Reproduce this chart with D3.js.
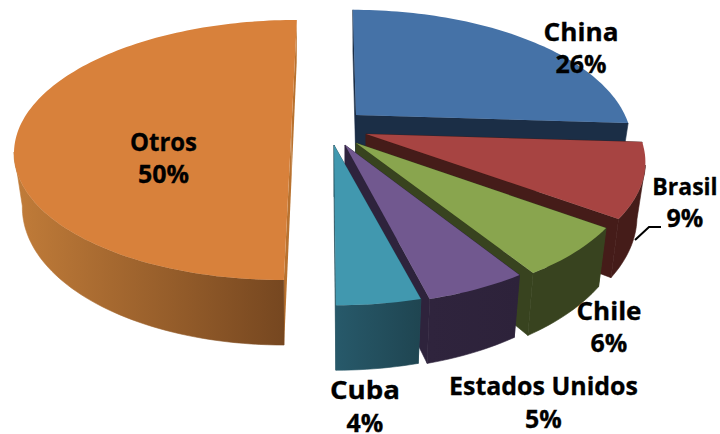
<!DOCTYPE html>
<html><head><meta charset="utf-8">
<script src="https://cdn.jsdelivr.net/npm/d3@7"></script>
<style>html,body{margin:0;padding:0;background:#fff}svg{display:block}
text{font-family:"Open Sans",sans-serif;font-weight:700;fill:#000;stroke:#000;stroke-width:.3;text-anchor:middle}</style>
</head><body><script>
const categories = ["China","Brasil","Chile","Estados Unidos","Cuba","Otros"];
const percents = [26,9,6,5,4,50];
const topColors = ["#4572a7","#a74442","#89a54e","#71588f","#4198af","#d8813b"];
const radialColors = ["#1b2e46","#451c19","#38431f","#2e233c","#25505e","#b9722f"];
const wallStops = [["#1b2e46","#1b2e46"],["#451c19","#451c19"],["#38431f","#38431f"],["#2f243d","#2d223a"],["#27596a","#1f4551"],["#c17c39","#764720"]];
// apex of each exploded slice: x, y, lean, x scale, y scale
const apex = [[356,115,.03,.985,1],[366,134,.012,1,1],[356,143,.012,.99,1],[345,145,.012,.975,1],[334,145,.012,1,1],[291.7,123,-.05,.99,.98]];
const labelPos = [[581,41,73],[685,195,227],[609,320,352],[543.5,395,428],[365,399,432],[163.5,151,183]];
const labelWidth = [75,64,65,189,70,67];
const labelSize = [25,23,25,25,25,25];
const S=273, H=127, P=.2075, W=51.5, SHRINK=.97, WALL_FROM=.22;
const svg=d3.select("body").append("svg").attr("width",720).attr("height",434);
const defs=svg.append("defs");
const pie=d3.pie().sort(null).value(d=>d).startAngle(0).endAngle(2*Math.PI);
const arcs=pie(percents);
const line=d3.line();
function topPt(i,t){const [ax,ay,k,sx,sy]=apex[i];const a=Math.sin(t),b=-Math.cos(t),z=1-P*b;
  const y=ay+sy*H*b/z;return [ax+sx*S*a/z+k*(y-ay),y];}
function botPt(i,t){const [ax,ay]=apex[i];const b=-Math.cos(t),z=1-P*b;
  const [x0,y0]=topPt(i,t);
  return [ax+(x0-ax)*SHRINK,y0+W/z];}
function samples(d){const n=Math.max(8,Math.ceil((d.endAngle-d.startAngle)*40));return d3.range(n+1).map(j=>d.startAngle+(d.endAngle-d.startAngle)*j/n);}
const drawOrder=[0,5,1,2,3,4];
drawOrder.forEach(i=>{
  const d=arcs[i],ts=samples(d),g=svg.append("g").attr("class","slice");
  const tp=ts.map(t=>topPt(i,t));
  const wallTs=ts.filter(t=>-Math.cos(t)>=WALL_FROM);
  const wt=wallTs.map(t=>topPt(i,t)),wb=wallTs.map(t=>botPt(i,t));
  const id="w"+i;
  const xs=wt.length?wt.map(p=>p[0]):[0,1];
  const gr=defs.append("linearGradient").attr("id",id).attr("gradientUnits","userSpaceOnUse")
    .attr("x1",d3.min(xs)).attr("x2",d3.max(xs)).attr("y1",0).attr("y2",0);
  gr.append("stop").attr("offset",0).attr("stop-color",wallStops[i][0]);
  gr.append("stop").attr("offset",1).attr("stop-color",wallStops[i][1]);
  const ctr=[apex[i][0],apex[i][1]],ctrB=[apex[i][0],apex[i][1]+W];
  [d.startAngle,d.endAngle].forEach(t=>{
    g.append("path").attr("d",line([ctr,topPt(i,t),botPt(i,t),ctrB])+"Z").attr("fill",radialColors[i]).attr("stroke",i===5?"none":radialColors[i]).attr("stroke-width",.6);
  });
  if(wt.length) g.append("path").attr("d",line(wt.concat(wb.slice().reverse()))+"Z").attr("fill",`url(#${id})`).attr("stroke",`url(#${id})`).attr("stroke-width",.6);
  g.append("path").attr("d",line([ctr,...tp])+"Z").attr("fill",topColors[i]);
});
svg.append("path").attr("d",line([[635,240],[649,227],[661,227]])).attr("fill","none").attr("stroke","#000").attr("stroke-width",2);
categories.forEach((c,i)=>{
  const name=svg.append("text").attr("x",labelPos[i][0]).attr("y",labelPos[i][1]).attr("font-size",labelSize[i]).text(c);
  if(i!==1) name.attr("textLength",labelWidth[i]).attr("lengthAdjust","spacingAndGlyphs");
  svg.append("text").attr("x",labelPos[i][0]).attr("y",labelPos[i][2]).attr("font-size",25).text(percents[i]+"%");
});
</script></body></html>
